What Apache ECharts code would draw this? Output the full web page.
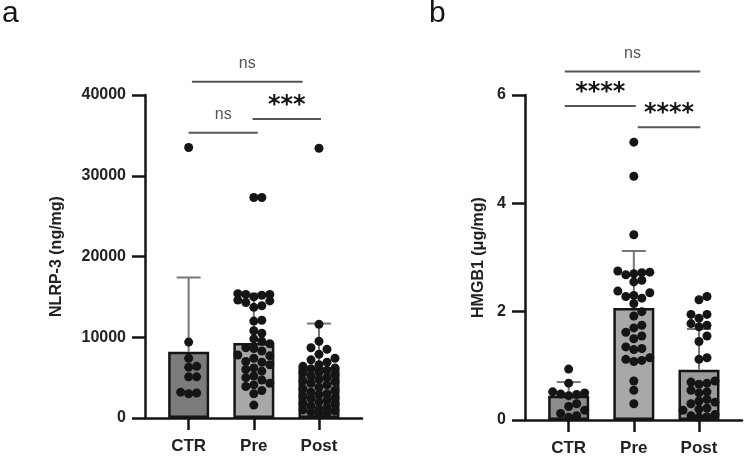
<!DOCTYPE html>
<html>
<head>
<meta charset="utf-8">
<script src="https://cdn.jsdelivr.net/npm/echarts@6/dist/echarts.min.js"></script>
<style>
  html, body { margin: 0; padding: 0; background: #fff; }
  #chart { width: 750px; height: 463px; }
</style>
</head>
<body>
<div id="chart"></div>
<script>
const groups = ['CTR', 'Pre', 'Post']

// panel a - NLRP-3 (ng/mg)
const nlrpMean = [8200, 9300, 6300]
const nlrpSdTop = [17400, 15400, 11700]
const nlrpCtr = [33500, 9400, 7400, 6400, 6300, 5100, 5100, 3200, 3100, 3000]
const nlrpPre = [27300, 27300, 15300, 15400, 15300, 15200, 15000, 14500, 14600, 14300,
  13700, 13900, 12000, 12100, 10500, 10800, 9800, 9500, 9200, 8700, 8600, 8300, 7800,
  7700, 7400, 6900, 7000, 6600, 6000, 6200, 5800, 5200, 5000, 4700, 4300, 4100, 3900,
  3400, 3000, 1600]
const nlrpPost = [33400, 11600, 9500, 8700, 8500, 7900, 7400, 7200, 6900, 6600, 6400,
  6200, 6100, 5900, 5700, 5600, 5400, 5200, 5000, 4800, 4600, 4500, 4300, 4100, 3800,
  3600, 3400, 3200, 3000, 2900, 2700, 2500, 2400, 2200, 2000, 1800, 1700, 1500, 1300,
  1100, 1000, 900, 700, 600, 400]
// [from group, to group, level, label]
const nlrpStats = [[1.05, 2.75, 41600, 'ns'], [1.0, 2.06, 35300, 'ns'], [1.98, 3.03, 37000, '***']]

// panel b - HMGB1 (ug/mg)
const hmgbMean = [0.45, 2.07, 0.93]
const hmgbSdTop = [0.70, 3.12, 1.68]
const hmgbCtr = [0.94, 0.68, 0.47, 0.50, 0.52, 0.48, 0.45, 0.25, 0.30, 0.18, 0.08, 0.05, 0.12]
const hmgbPre = [5.13, 4.50, 3.42, 2.75, 2.70, 2.72, 2.68, 2.73, 2.55, 2.58, 2.35, 2.28,
  2.25, 2.30, 2.38, 2.15, 2.00, 1.92, 1.75, 1.70, 1.62, 1.55, 1.50, 1.35, 1.32, 1.30,
  1.15, 1.10, 1.08, 1.12, 0.72, 0.55, 0.30]
const hmgbPost = [2.28, 2.22, 1.95, 1.95, 1.88, 1.72, 1.78, 1.75, 1.55, 1.45, 1.15, 1.12,
  0.72, 0.70, 0.68, 0.66, 0.55, 0.52, 0.50, 0.38, 0.35, 0.33, 0.30, 0.22, 0.20, 0.18,
  0.08, 0.05, 0.06, 0.10]
const hmgbStats = [[0.94, 3.02, 6.44, 'ns'], [0.94, 2.03, 5.80, '****'], [2.06, 3.02, 5.41, '****']]

const FONT = 'Liberation Sans'
const INK = '#151515'
const PX_X = 217 / 3.33   // px per group on x

// simple beeswarm, like the prism scatter dot plot
function swarm(values, center, pxY) {
  const step = 8, dmin = 7.5, maxCol = 2
  const placed = []
  values.slice().sort((a, b) => a - b).forEach(v => {
    const y = v * pxY
    let best = 0, bestGap = -1
    for (let k = 0; k <= maxCol * 2; k++) {
      const off = (k % 2 ? 1 : -1) * Math.ceil(k / 2) * step
      let gap = Infinity
      placed.forEach(p => {
        gap = Math.min(gap, Math.hypot(p.off - off, p.y - y))
      })
      if (gap >= dmin) { best = off; bestGap = gap; break }
      if (gap > bestGap) { bestGap = gap; best = off }
    }
    placed.push({ off: best, y: y, v: v })
  })
  return placed.map(p => [center + p.off / PX_X, p.v])
}

function errItem(params, api) {
  const m = api.coord([api.value(0), api.value(1)])
  const t = api.coord([api.value(0), api.value(2)])
  const st = { stroke: '#777', lineWidth: 2 }
  return {
    type: 'group',
    children: [
      { type: 'line', shape: { x1: m[0], y1: m[1], x2: t[0], y2: t[1] }, style: st },
      { type: 'line', shape: { x1: t[0] - 12, y1: t[1], x2: t[0] + 12, y2: t[1] }, style: st }
    ]
  }
}

function bracketItem(stats) {
  return function (params, api) {
    const a = api.coord([api.value(0), api.value(2)])
    const b = api.coord([api.value(1), api.value(2)])
    const label = stats[params.dataIndex][3]
    const star = label !== 'ns'
    return {
      type: 'group',
      children: [
        { type: 'line', shape: { x1: a[0], y1: a[1], x2: b[0], y2: b[1] }, style: { stroke: '#555', lineWidth: 2 } },
        {
          type: 'text', x: (a[0] + b[0]) / 2, y: a[1] - (star ? 13 : 18),
          style: {
            text: label, align: 'center', verticalAlign: 'middle',
            fill: star ? INK : '#555',
            font: star ? 'bold 24px "DejaVu Sans"' : '16px "' + FONT + '"'
          }
        }
      ]
    }
  }
}

function xAxis(grid, show) {
  return {
    type: 'value', gridIndex: grid, min: 0.33, max: 3.66, show: show,
    splitLine: { show: false },
    axisLine: { onZero: false, lineStyle: { color: INK, width: 2.5 } },
    axisTick: { customValues: [1, 2, 3], length: 12, lineStyle: { color: INK, width: 2.5 } },
    axisLabel: {
      customValues: [1, 2, 3], formatter: v => groups[Math.round(v) - 1],
      margin: 20, fontSize: 17, fontWeight: 'bold', color: '#222', fontFamily: FONT
    }
  }
}

function yAxis(grid, max, interval, name, gap) {
  return {
    type: 'value', gridIndex: grid, min: 0, max: max, interval: interval,
    name: name, nameLocation: 'middle', nameGap: gap,
    nameTextStyle: { fontSize: 16, fontWeight: 'bold', color: '#222', fontFamily: FONT },
    splitLine: { show: false },
    axisLine: { show: true, onZero: false, lineStyle: { color: INK, width: 2.5 } },
    axisTick: { show: true, length: 13, lineStyle: { color: INK, width: 2.5 } },
    axisLabel: {
      margin: 19, fontSize: 16, fontWeight: 'bold', color: '#222', fontFamily: FONT,
      formatter: v => String(v)
    }
  }
}

function hiddenY(grid, max) {
  return { type: 'value', gridIndex: grid, min: 0, max: max, show: false, splitLine: { show: false } }
}

function panelSeries(xi, oi, mean, sdTop, pts, colors, stats, pxY) {
  const dots = []
  pts.forEach((vals, i) => { swarm(vals, i + 1, pxY).forEach(d => dots.push(d)) })
  return [
    {
      type: 'bar', xAxisIndex: xi, yAxisIndex: xi, barWidth: 41, z: 2,
      data: mean.map((m, i) => ({
        value: [i + 1, m],
        itemStyle: { color: colors[i], borderColor: INK, borderWidth: 2.5 }
      }))
    },
    {
      type: 'custom', xAxisIndex: xi, yAxisIndex: xi, z: 3,
      renderItem: errItem, encode: { x: 0, y: [1, 2] },
      data: mean.map((m, i) => [i + 1, m, sdTop[i]])
    },
    {
      type: 'scatter', xAxisIndex: xi, yAxisIndex: xi, z: 4,
      symbolSize: 9, itemStyle: { color: INK, opacity: 1 },
      data: dots
    },
    {
      type: 'custom', xAxisIndex: oi, yAxisIndex: oi, z: 5,
      renderItem: bracketItem(stats), encode: { x: [0, 1], y: 2 },
      data: stats.map(s => [s[0], s[1], s[2]])
    }
  ]
}

const chart = echarts.init(document.getElementById('chart'), null, { renderer: 'canvas' })

chart.setOption({
  animation: false,
  backgroundColor: '#fff',
  textStyle: { fontFamily: FONT },
  title: [
    { text: 'a', left: -3, top: -6, textStyle: { fontSize: 30, fontWeight: 'normal', color: INK, fontFamily: FONT } },
    { text: 'b', left: 424, top: -6, textStyle: { fontSize: 30, fontWeight: 'normal', color: INK, fontFamily: FONT } }
  ],
  grid: [
    { left: 145, right: 388, top: 95, bottom: 45 },
    { left: 145, right: 388, top: 14, bottom: 45 },
    { left: 525, right: 8, top: 95, bottom: 43 },
    { left: 525, right: 8, top: 14, bottom: 43 }
  ],
  xAxis: [xAxis(0, true), xAxis(1, false), xAxis(2, true), xAxis(3, false)],
  yAxis: [
    yAxis(0, 40000, 10000, 'NLRP-3 (ng/mg)', 80),
    hiddenY(1, 50000),
    yAxis(2, 6, 2, 'HMGB1 (μg/mg)', 38),
    hiddenY(3, 7.5)
  ],
  series: [].concat(
    panelSeries(0, 1, nlrpMean, nlrpSdTop, [nlrpCtr, nlrpPre, nlrpPost],
      ['#7b7b7b', '#a8a8a8', '#8a8a8a'], nlrpStats, 323 / 40000),
    panelSeries(2, 3, hmgbMean, hmgbSdTop, [hmgbCtr, hmgbPre, hmgbPost],
      ['#8c8c8c', '#a8a8a8', '#9a9a9a'], hmgbStats, 325 / 6)
  )
})
</script>
</body>
</html>
